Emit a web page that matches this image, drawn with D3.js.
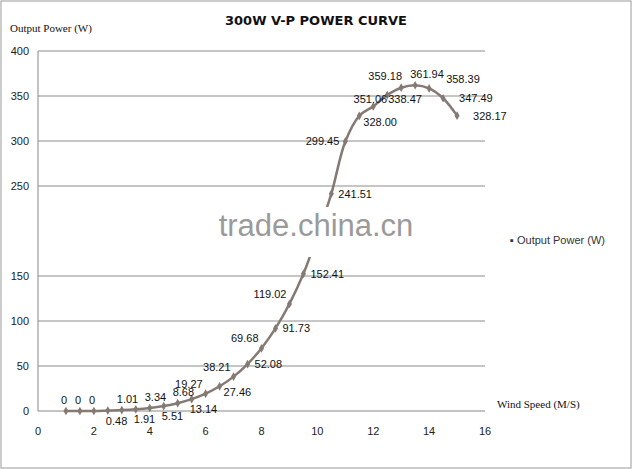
<!DOCTYPE html><html><head><meta charset="utf-8"><script src="https://cdn.jsdelivr.net/npm/d3@7"></script>
<style>body{margin:0;background:#fff}</style></head><body><svg id="c" width="632" height="469"></svg>
<script>
const windSpeed=[1,1.5,2,2.5,3,3.5,4,4.5,5,5.5,6,6.5,7,7.5,8,8.5,9,9.5,10,10.5,11,11.5,12,12.5,13,13.5,14,14.5,15];
const power=[0,0,0,0.48,1.01,1.91,3.34,5.51,8.68,13.14,19.27,27.46,38.21,52.08,69.68,91.73,119.02,152.41,195,241.51,299.45,328.00,338.47,351.06,359.18,361.94,358.39,347.49,328.17];
const labels=["0","0","0","0.48","1.01","1.91","3.34","5.51","8.68","13.14","19.27","27.46","38.21","52.08","69.68","91.73","119.02","152.41","","241.51","299.45","328.00","338.47","351.06","359.18","361.94","358.39","347.49","328.17"];
const labelSide=["a","a","a","b","a","b","a","b","a","b","al","rb","al","r","al","r","al","r","r","r","l","rb","rt","lb","ac","a","ra","rr","rr"];
const yTicks=[0,50,100,150,200,250,300,350,400];
const xTicks=[0,2,4,6,8,10,12,14,16];
const svg=d3.select("#c");
const x=d3.scaleLinear().domain([0,16]).range([38,485]);
const y=d3.scaleLinear().domain([0,400]).range([411,51]);
svg.append("rect").attr("x",1).attr("y",1).attr("width",630).attr("height",467).attr("fill","none").attr("stroke","#999");
svg.append("g").selectAll("line").data(yTicks.slice(1)).join("line").attr("x1",38).attr("x2",485).attr("y1",d=>y(d)).attr("y2",d=>y(d)).attr("stroke","#8c8c8c");
svg.append("line").attr("x1",38).attr("x2",38).attr("y1",51).attr("y2",411).attr("stroke","#888");
svg.append("line").attr("x1",38).attr("x2",485).attr("y1",411).attr("y2",411).attr("stroke","#888");
const f="Liberation Sans, Arial, sans-serif";
svg.append("g").selectAll("text").data(yTicks).join("text").attr("x",29).attr("y",d=>y(d)+4).attr("text-anchor","end").attr("font-family",f).attr("font-size",11).attr("fill","#222").text(d=>d);
svg.append("g").selectAll("text").data(xTicks).join("text").attr("x",d=>x(d)).attr("y",435).attr("text-anchor","middle").attr("font-family",f).attr("font-size",11).attr("fill","#222").text(d=>d);
const line=d3.line().x((d,i)=>x(windSpeed[i])).y(d=>y(d)).curve(d3.curveCatmullRom);
svg.append("path").datum(power).attr("d",line).attr("fill","none").attr("stroke","#857a73").attr("stroke-width",2.5);
svg.append("g").selectAll("path").data(power).join("path").attr("transform",(d,i)=>`translate(${x(windSpeed[i])},${y(d)})`).attr("d",d3.symbol(d3.symbolDiamond,22)).attr("fill","#857a73");
const off={a:[-5,-7,"start"],ac:[-16,-8,"middle"],b:[-2,14,"start"],r:[7,4,"start"],rr:[16,4,"start"],rt:[15,-3,"start"],l:[-6,4,"end"],lb:[0,8,"end"],al:[-3,-6,"end"],rb:[4,10,"start"],ra:[17,-5,"start"]};
svg.append("g").selectAll("text").data(power).join("text")
 .attr("x",(d,i)=>x(windSpeed[i])+off[labelSide[i]][0]).attr("y",(d,i)=>y(d)+off[labelSide[i]][1])
 .attr("text-anchor",(d,i)=>off[labelSide[i]][2]).attr("font-family",f).attr("font-size",11).attr("fill","#111").text((d,i)=>labels[i]);
svg.append("rect").attr("x",2).attr("y",207).attr("width",628).attr("height",50).attr("fill","#fff");
svg.append("line").attr("x1",38).attr("x2",38).attr("y1",207).attr("y2",257).attr("stroke","#888");
svg.append("text").attr("x",316).attr("y",236).attr("text-anchor","middle").attr("font-family",f).attr("font-size",31).attr("fill","#9a9a9a").text("trade.china.cn");
svg.append("text").attr("x",510).attr("y",244).attr("font-family",f).attr("font-size",11).attr("fill","#333").text("▪ Output Power (W)");
svg.append("text").attr("x",316).attr("y",25).attr("text-anchor","middle").attr("font-family","DejaVu Sans, sans-serif").attr("font-weight","bold").attr("font-size",13).attr("fill","#111").text("300W V-P POWER CURVE");
svg.append("text").attr("x",10).attr("y",32).attr("font-family","Liberation Serif, serif").attr("font-size",11).attr("fill","#111").text("Output Power (W)");
svg.append("text").attr("x",497).attr("y",408).attr("font-family","Liberation Serif, serif").attr("font-size",11).attr("fill","#111").text("Wind Speed (M/S)");
</script></body></html>
